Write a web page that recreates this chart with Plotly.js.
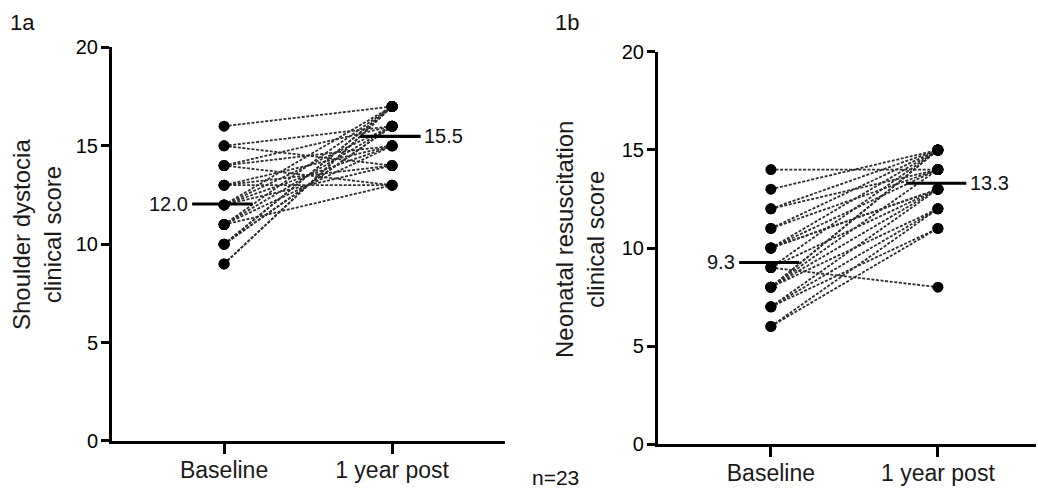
<!DOCTYPE html>
<html>
<head>
<meta charset="utf-8">
<script src="https://cdn.plot.ly/plotly-3.0.1.min.js"></script>
<style>html,body{margin:0;padding:0;background:#fff;}#chart{width:1038px;height:489px;}</style>
</head>
<body>
<div id="chart"></div>
<script>
// ---- data ----
const categories = ['Baseline', '1 year post'];
const tickValues = [0, 5, 10, 15, 20];

// Panel 1a: shoulder dystocia clinical score (paired, n=23)
const shoulderBaseline = [16, 15, 15, 14, 14, 14, 13, 13, 13, 12, 12, 12, 12, 11, 11, 11, 11, 10, 10, 10, 10, 9, 9];
const shoulderPost     = [17, 16, 14, 15, 13, 16, 15, 14, 13, 15, 16, 17, 14, 17, 16, 15, 13, 17, 17, 16, 16, 17, 17];

// Panel 1b: neonatal resuscitation clinical score (paired, n=23)
const neonatalBaseline = [14, 13, 12, 12, 11, 11, 10, 10, 10, 10, 9, 9, 9, 8, 8, 8, 8, 8, 7, 7, 7, 6, 6];
const neonatalPost     = [14, 15, 15, 14, 15, 14, 15, 14, 13, 13, 8, 13, 15, 15, 15, 13, 12, 14, 13, 12, 11, 12, 11];

const panelLabels = ['1a', '1b'];
const yTitles = ['Shoulder dystocia<br>clinical score', 'Neonatal resuscitation<br>clinical score'];
const sampleNote = 'n=23';

// ---- helpers ----
function mean(a) { return a.reduce((s, v) => s + v, 0) / a.length; }
function pairedTrace(base, post, xa, ya) {
  const x = [], y = [];
  for (let i = 0; i < base.length; i++) {
    x.push(0, 1, null);
    y.push(base[i], post[i], null);
  }
  return {
    type: 'scatter', mode: 'lines+markers', x: x, y: y, xaxis: xa, yaxis: ya,
    line: {color: '#2e2e2e', width: 1.8, dash: '3px,1.6px'},
    marker: {color: '#000', size: 11},
    hoverinfo: 'skip', showlegend: false, connectgaps: false
  };
}
function meanTrace(base, post, xa, ya) {
  const mb = mean(base), mp = mean(post);
  return {
    type: 'scatter', mode: 'lines', xaxis: xa, yaxis: ya,
    x: [-0.19, 0.17, null, 0.81, 1.17],
    y: [mb, mb, null, mp, mp],
    line: {color: '#000', width: 3.2},
    hoverinfo: 'skip', showlegend: false
  };
}

const traces = [
  pairedTrace(shoulderBaseline, shoulderPost, 'x', 'y'),
  meanTrace(shoulderBaseline, shoulderPost, 'x', 'y'),
  pairedTrace(neonatalBaseline, neonatalPost, 'x2', 'y2'),
  meanTrace(neonatalBaseline, neonatalPost, 'x2', 'y2')
];

const font = 'Liberation Sans, Arial, sans-serif';
function xAxis(domain, range, anchor) {
  return {
    domain: domain, range: range, anchor: anchor,
    tickvals: [0, 1], ticktext: categories,
    showgrid: false, zeroline: false,
    showline: true, linecolor: '#000', linewidth: 3,
    ticks: 'outside', ticklen: 10, tickwidth: 3, tickcolor: '#000',
    ticklabelstandoff: -4,
    tickfont: {family: font, size: 23, color: '#1a1a1a'},
    fixedrange: true
  };
}
function yAxis(domain, anchor) {
  return {
    domain: domain, range: [0, 20], anchor: anchor,
    tickvals: tickValues, ticktext: tickValues.map(String),
    showgrid: false, zeroline: false,
    showline: true, linecolor: '#000', linewidth: 3,
    ticks: 'outside', ticklen: 8, tickwidth: 3, tickcolor: '#000',
    ticklabelstandoff: -1,
    tickfont: {family: font, size: 20, color: '#000'},
    fixedrange: true
  };
}

const mA = [mean(shoulderBaseline), mean(shoulderPost)];
const mB = [mean(neonatalBaseline), mean(neonatalPost)];
function meanLabels(m, xr, yr) {
  return [
    {xref: xr, yref: yr, x: -0.2, y: m[0], text: m[0].toFixed(1), xanchor: 'right', yanchor: 'middle', showarrow: false, font: {family: font, size: 20, color: '#111'}},
    {xref: xr, yref: yr, x: 1.18, y: m[1], text: m[1].toFixed(1), xanchor: 'left', yanchor: 'middle', showarrow: false, font: {family: font, size: 20, color: '#111'}}
  ];
}

const layout = {
  width: 1038, height: 489,
  margin: {l: 0, r: 0, t: 0, b: 0},
  paper_bgcolor: '#fff', plot_bgcolor: '#fff',
  xaxis: xAxis([0.1079, 0.4865], [-0.667, 1.672], 'y'),
  yaxis: yAxis([0.0982, 0.9029], 'x'),
  xaxis2: xAxis([0.6339, 0.998], [-0.676, 1.587], 'y2'),
  yaxis2: yAxis([0.092, 0.8937], 'x2'),
  annotations: [
    {xref: 'paper', yref: 'paper', x: 8 / 1038, y: 1 - 22 / 489, text: panelLabels[0], xanchor: 'left', yanchor: 'middle', showarrow: false, font: {family: font, size: 22, color: '#111'}},
    {xref: 'paper', yref: 'paper', x: 553 / 1038, y: 1 - 22 / 489, text: panelLabels[1], xanchor: 'left', yanchor: 'middle', showarrow: false, font: {family: font, size: 22, color: '#111'}},
    {xref: 'paper', yref: 'paper', x: 37 / 1038, y: 1 - 235 / 489, text: yTitles[0], textangle: -90, xanchor: 'center', yanchor: 'middle', showarrow: false, font: {family: font, size: 24, color: '#1a1a1a'}},
    {xref: 'paper', yref: 'paper', x: 580 / 1038, y: 1 - 240 / 489, text: yTitles[1], textangle: -90, xanchor: 'center', yanchor: 'middle', showarrow: false, font: {family: font, size: 24, color: '#1a1a1a'}},
    {xref: 'paper', yref: 'paper', x: 555 / 1038, y: 1 - 477 / 489, text: sampleNote, xanchor: 'center', yanchor: 'middle', showarrow: false, font: {family: font, size: 21, color: '#111'}}
  ].concat(meanLabels(mA, 'x', 'y'), meanLabels(mB, 'x2', 'y2'))
};

Plotly.newPlot('chart', traces, layout, {staticPlot: true, displayModeBar: false});
</script>
</body>
</html>
